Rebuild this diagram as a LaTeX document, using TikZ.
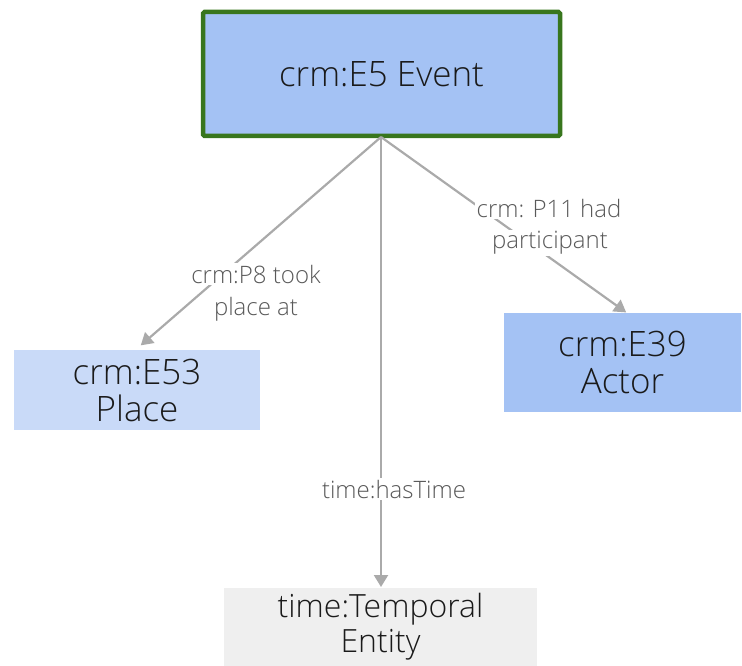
\documentclass[tikz,border=0pt]{standalone}
\usepackage{fontspec}
\setmainfont{Open Sans}[UprightFont=* Light]
\usetikzlibrary{arrows.meta}
\definecolor{evfill}{HTML}{A4C2F4}
\definecolor{plfill}{HTML}{C9DAF8}
\definecolor{tmfill}{HTML}{EFEFEF}
\definecolor{evborder}{HTML}{38761D}
\definecolor{edgegray}{HTML}{AAAAAA}
\definecolor{labelgray}{HTML}{595959}
\definecolor{textdark}{HTML}{1A1A1A}
\begin{document}
\begin{tikzpicture}[x=1pt,y=-1pt,
  classbox/.style={rectangle, inner sep=0pt, align=center, text=textdark,
    font=\fontsize{35}{37}\selectfont},
  edge/.style={draw=edgegray, line width=2.2pt, -{Triangle[width=14pt,length=12pt]}, shorten >=1pt},
  elabel/.style={fill=white, text=labelgray, inner sep=1.5pt, font=\fontsize{24}{28}\selectfont}
]
\useasboundingbox (0,0) rectangle (742,666);
\node[classbox, fill=evfill, draw=evborder, line width=4.5pt, rounded corners=1.5pt,
  minimum width=357pt, minimum height=124pt] (ev) at (381.5,74) {crm:E5 Event};
\node[classbox, fill=plfill, minimum width=246pt, minimum height=80pt] (pl) at (137,390) {crm:E53\\Place};
\node[classbox, fill=evfill, minimum width=237pt, minimum height=99pt] (ac) at (622.5,362.5) {crm:E39\\Actor};
\node[classbox, fill=tmfill, minimum width=313pt, minimum height=78pt,
  font=\fontsize{32}{35}\selectfont] (tm) at (380.5,627) {time:Temporal\\Entity};
\coordinate (src) at (381,137);
\coordinate (plt) at (140,346);
\coordinate (act) at (627,313);
\coordinate (tmt) at (381,588);
\draw[edge] (src) -- (plt);
\draw[edge] (src) -- (act);
\draw[edge] (src) -- (tmt);
\node[elabel] (l1a) at (256,274) {crm:P8 took};
\node[elabel] (l1b) at (256,309) {place at};
\node[elabel] (l2a) at (549,208) {crm: P11 had};
\node[elabel] (l2b) at (550,243) {participant};
\node[elabel] (l3) at (394,489) {time:hasTime};
\end{tikzpicture}
\end{document}
